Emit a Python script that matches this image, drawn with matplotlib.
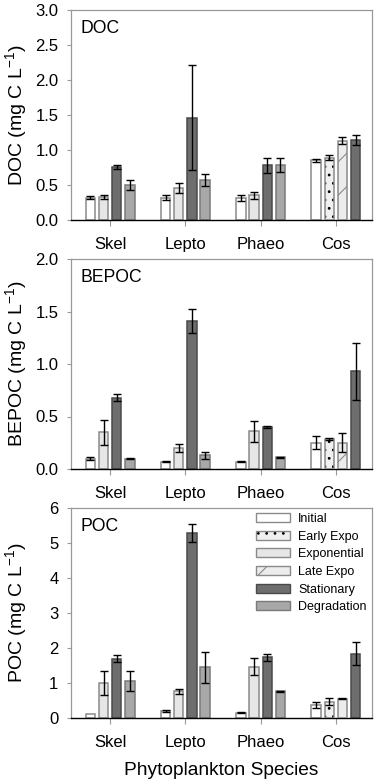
import numpy as np
import matplotlib
matplotlib.use("Agg")
import matplotlib.pyplot as plt
from matplotlib.patches import Patch
from matplotlib.legend_handler import HandlerTuple

plt.rcParams['font.family'] = ['Liberation Sans', 'DejaVu Sans']
plt.rcParams['mathtext.fontset'] = 'custom'
plt.rcParams['mathtext.rm'] = 'Liberation Sans'
plt.rcParams['mathtext.default'] = 'regular'
plt.rcParams['hatch.linewidth'] = 0.8

nan = np.nan
categories = ["Skel", "Lepto", "Phaeo", "Cos"]
series = ["Initial", "Early Expo", "Exponential", "Late Expo", "Stationary", "Degradation"]

# DOC
doc_initial = [0.32, 0.32, 0.31, 0.85]
doc_initial_err = [0.02, 0.04, 0.04, 0.02]
doc_early = [nan, nan, nan, 0.89]
doc_early_err = [nan, nan, nan, 0.04]
doc_expo = [0.33, 0.46, 0.35, nan]
doc_expo_err = [0.03, 0.07, 0.05, nan]
doc_late = [nan, nan, nan, 1.13]
doc_late_err = [nan, nan, nan, 0.05]
doc_stat = [0.76, 1.46, 0.78, 1.14]
doc_stat_err = [0.03, 0.75, 0.11, 0.07]
doc_degr = [0.50, 0.57, 0.78, nan]
doc_degr_err = [0.07, 0.08, 0.10, nan]

# BEPOC
bepoc_initial = [0.10, 0.07, 0.07, 0.25]
bepoc_initial_err = [0.01, 0.005, 0.005, 0.06]
bepoc_early = [nan, nan, nan, 0.29]
bepoc_early_err = [nan, nan, nan, 0.01]
bepoc_expo = [0.35, 0.20, 0.36, nan]
bepoc_expo_err = [0.12, 0.04, 0.10, nan]
bepoc_late = [nan, nan, nan, 0.25]
bepoc_late_err = [nan, nan, nan, 0.09]
bepoc_stat = [0.68, 1.41, 0.40, 0.93]
bepoc_stat_err = [0.035, 0.115, 0.005, 0.27]
bepoc_degr = [0.10, 0.13, 0.11, nan]
bepoc_degr_err = [0.005, 0.035, 0.005, nan]

# POC
poc_initial = [0.12, 0.20, 0.15, 0.37]
poc_initial_err = [0.0, 0.02, 0.01, 0.08]
poc_early = [nan, nan, nan, 0.46]
poc_early_err = [nan, nan, nan, 0.10]
poc_expo = [1.00, 0.77, 1.47, nan]
poc_expo_err = [0.34, 0.07, 0.25, nan]
poc_late = [nan, nan, nan, 0.55]
poc_late_err = [nan, nan, nan, 0.02]
poc_stat = [1.70, 5.28, 1.73, 1.84]
poc_stat_err = [0.10, 0.25, 0.10, 0.33]
poc_degr = [1.05, 1.45, 0.76, nan]
poc_degr_err = [0.29, 0.45, 0.02, nan]

panels = [
    ("DOC", "DOC (mg C L$^{-1}$)", 3.0, 0.5, "%.1f",
     [doc_initial, doc_early, doc_expo, doc_late, doc_stat, doc_degr],
     [doc_initial_err, doc_early_err, doc_expo_err, doc_late_err, doc_stat_err, doc_degr_err]),
    ("BEPOC", "BEPOC (mg C L$^{-1}$)", 2.0, 0.5, "%.1f",
     [bepoc_initial, bepoc_early, bepoc_expo, bepoc_late, bepoc_stat, bepoc_degr],
     [bepoc_initial_err, bepoc_early_err, bepoc_expo_err, bepoc_late_err, bepoc_stat_err, bepoc_degr_err]),
    ("POC", "POC (mg C L$^{-1}$)", 6, 1, "%d",
     [poc_initial, poc_early, poc_expo, poc_late, poc_stat, poc_degr],
     [poc_initial_err, poc_early_err, poc_expo_err, poc_late_err, poc_stat_err, poc_degr_err]),
]

styles = {
    "Initial":     dict(fc="white",   ec="#8a8a8a", hatch=None, hc=None),
    "Early Expo":  dict(fc="#f0f0f0", ec="#8a8a8a", hatch="..", hc="black"),
    "Exponential": dict(fc="#e6e6e6", ec="#8a8a8a", hatch=None, hc=None),
    "Late Expo":   dict(fc="#ececec", ec="#8a8a8a", hatch="/", hc="#8a8a8a"),
    "Stationary":  dict(fc="#6e6e6e", ec="#4a4a4a", hatch=None, hc=None),
    "Degradation": dict(fc="#a8a8a8", ec="#7a7a7a", hatch=None, hc=None),
}

W, H = 378, 784
fig = plt.figure(figsize=(W / 100, H / 100), dpi=100)
left, right = 71, 372
tops = [10, 259, 508]
ph = 210
pitch = 0.175
bw = 0.124
x = np.arange(1, len(categories) + 1)

for (name, ylab, ymax, ystep, fmt, vals, errs), top in zip(panels, tops):
    ax = fig.add_axes([left / W, 1 - (top + ph) / H, (right - left) / W, ph / H])
    vals = np.array(vals, dtype=float)
    errs = np.array(errs, dtype=float)
    for g in range(len(categories)):
        present = [s for s in range(len(series)) if not np.isnan(vals[s, g])]
        n = len(present)
        for k, s in enumerate(present):
            pos = x[g] + (k - (n - 1) / 2) * pitch
            st = styles[series[s]]
            v = vals[s, g]
            if st["hatch"]:
                ax.bar(pos, v, bw, color=st["fc"], edgecolor=st["hc"], hatch=st["hatch"],
                       linewidth=0, zorder=2)
                ax.bar(pos, v, bw, fill=False, edgecolor=st["ec"], linewidth=1.1, zorder=3)
            else:
                ax.bar(pos, v, bw, color=st["fc"], edgecolor=st["ec"], linewidth=1.1, zorder=2)
            e = errs[s, g]
            if e > 0:
                ax.errorbar(pos, v, yerr=e, fmt="none", ecolor="black", elinewidth=1.0,
                            capsize=2.8, capthick=1.0, zorder=4)
    ax.set_xlim(0.48, 4.48)
    ax.set_ylim(0, ymax)
    ax.set_yticks(np.arange(0, ymax + ystep / 2, ystep))
    ax.yaxis.set_major_formatter(matplotlib.ticker.FormatStrFormatter(fmt))
    ax.set_xticks(x)
    ax.set_xticklabels(categories)
    for sp in ["top", "left", "right"]:
        ax.spines[sp].set_color("#999999")
        ax.spines[sp].set_linewidth(0.9)
    ax.spines["bottom"].set_color("black")
    ax.spines["bottom"].set_linewidth(1.0)
    ax.tick_params(axis="y", direction="out", length=3, width=0.8, color="#999999",
                   labelsize=12, pad=6)
    ax.tick_params(axis="x", direction="out", length=4, width=0.8, color="#999999",
                   labelsize=12, pad=8)
    ax.set_ylabel(ylab, fontsize=14)
    ax.yaxis.set_label_coords(-0.14, 0.5)
    ax.text(0.03, 0.91, name, transform=ax.transAxes, fontsize=12.7, va="center", ha="left")
    if name == "POC":
        ax.set_xlabel("Phytoplankton Species", fontsize=13.8, labelpad=9)
        handles = []
        for s in series:
            st = styles[s]
            if st["hatch"]:
                h1 = Patch(facecolor=st["fc"], edgecolor=st["hc"], hatch=st["hatch"], linewidth=0)
                h2 = Patch(fill=False, edgecolor=st["ec"], linewidth=1.0)
                handles.append((h1, h2))
            else:
                handles.append(Patch(facecolor=st["fc"], edgecolor=st["ec"], linewidth=1.0))
        ax.legend(handles, series, handler_map={tuple: HandlerTuple(ndivide=1, pad=0)},
                  loc="upper left", bbox_to_anchor=((256 - left) / (right - left), (718 - 513) / ph),
                  frameon=False, fontsize=9, handlelength=2.72, handleheight=0.72,
                  handletextpad=0.64, labelspacing=0.45, borderpad=0, borderaxespad=0)

fig.savefig("out.png", dpi=100)
